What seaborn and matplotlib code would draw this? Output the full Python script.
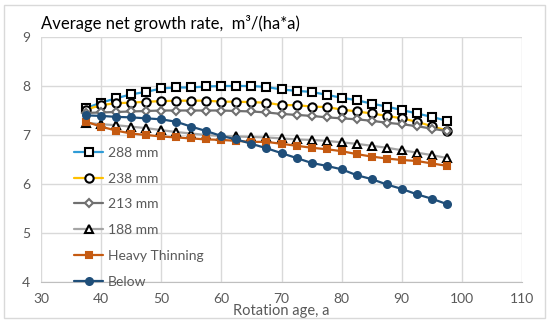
import numpy as np
import pandas as pd
import seaborn as sns
import matplotlib.pyplot as plt
from matplotlib.patches import Rectangle

# rotation ages (a)
ages = [37.5, 40, 42.5, 45, 47.5, 50, 52.5, 55, 57.5, 60, 62.5, 65, 67.5,
        70, 72.5, 75, 77.5, 80, 82.5, 85, 87.5, 90, 92.5, 95, 97.5]

# average net growth rate, m3/(ha*a)
mm288 = [7.55, 7.66, 7.75, 7.83, 7.88, 7.95, 7.97, 7.97, 7.99, 8.00, 8.00, 8.00, 7.98,
         7.93, 7.90, 7.88, 7.82, 7.76, 7.71, 7.64, 7.58, 7.51, 7.44, 7.37, 7.29]
mm238 = [7.52, 7.61, 7.65, 7.66, 7.68, 7.69, 7.70, 7.70, 7.70, 7.68, 7.68, 7.67, 7.66,
         7.61, 7.61, 7.58, 7.57, 7.52, 7.48, 7.44, 7.39, 7.34, 7.27, 7.18, 7.09]
mm213 = [7.45, 7.46, 7.47, 7.48, 7.49, 7.50, 7.50, 7.50, 7.50, 7.50, 7.49, 7.48, 7.46,
         7.43, 7.41, 7.39, 7.36, 7.34, 7.32, 7.29, 7.25, 7.22, 7.18, 7.13, 7.08]
mm188 = [7.25, 7.22, 7.20, 7.17, 7.14, 7.10, 7.06, 7.03, 7.00, 6.98, 6.97, 6.96, 6.95,
         6.93, 6.91, 6.90, 6.88, 6.85, 6.82, 6.78, 6.74, 6.69, 6.64, 6.59, 6.53]
heavy = [7.27, 7.17, 7.09, 7.03, 7.00, 6.97, 6.95, 6.93, 6.91, 6.90, 6.88, 6.86, 6.86,
         6.82, 6.78, 6.74, 6.71, 6.67, 6.61, 6.56, 6.52, 6.49, 6.47, 6.42, 6.37]
below = [7.40, 7.39, 7.37, 7.36, 7.34, 7.32, 7.27, 7.17, 7.08, 6.98, 6.91, 6.82, 6.73,
         6.63, 6.53, 6.43, 6.37, 6.30, 6.18, 6.10, 5.99, 5.90, 5.79, 5.70, 5.59]

labels = ['288 mm', '238 mm', '213 mm', '188 mm', 'Heavy Thinning', 'Below']

sns.set_style('white')
plt.rcParams['font.family'] = ['Lato', 'DejaVu Sans']

fig = plt.figure(figsize=(5.5, 3.24), dpi=100)
ax = fig.add_axes([41/550, 1-282/324, 481/550, 245/324])

# (line colour, marker, size, face, edge)
styles = [
    ('#2E9BD6', 's', 5.5, 'white', 'black'),
    ('#FFC000', 'o', 6, 'white', 'black'),
    ('#707070', 'D', 4, 'white', '#707070'),
    ('#A5A5A5', '^', 6, 'white', 'black'),
    ('#C55A11', 's', 5, '#C55A11', '#C55A11'),
    ('#1F4E79', 'o', 5, '#1F4E79', '#1F4E79'),
]
series = [mm288, mm238, mm213, mm188, heavy, below]

for vals, lab, (c, m, ms, fc, ec) in zip(series, labels, styles):
    sns.lineplot(x=ages, y=vals, ax=ax, color=c, lw=1.6, marker=m, markersize=ms,
                 markerfacecolor=fc, markeredgecolor=ec, markeredgewidth=1.5, label=lab)

ax.set_xlim(30, 110)
ax.set_ylim(4, 9)
ax.set_xticks(range(30, 111, 10))
ax.set_yticks(range(4, 10))
ax.grid(True, color='#D9D9D9', lw=1)
for s in ax.spines.values():
    s.set_visible(False)
ax.spines['bottom'].set_visible(True)
ax.spines['bottom'].set_color('#BFBFBF')
ax.tick_params(length=0, labelsize=10, labelcolor='#595959', pad=8)
ax.set_xlabel('Rotation age, a', fontsize=10.5, color='#595959')
ax.xaxis.set_label_coords(0.5, -0.09)

leg = ax.legend(loc='upper left', bbox_to_anchor=(0.069, 0.552), frameon=False,
                fontsize=10, labelspacing=0.99, handlelength=2.1, handletextpad=0.3,
                borderpad=0, borderaxespad=0)
for t in leg.get_texts():
    t.set_color('#595959')

fig.text(41/550, 1-23/324, 'Average net growth rate,  m³/(ha*a)', fontsize=12,
         color='black', va='center', ha='left')

fig.patches.append(Rectangle((4/550, 6/324), 541/550, 313/324, transform=fig.transFigure,
                             fill=False, edgecolor='#D9D9D9', lw=1))

fig.savefig('out.png', dpi=100)
